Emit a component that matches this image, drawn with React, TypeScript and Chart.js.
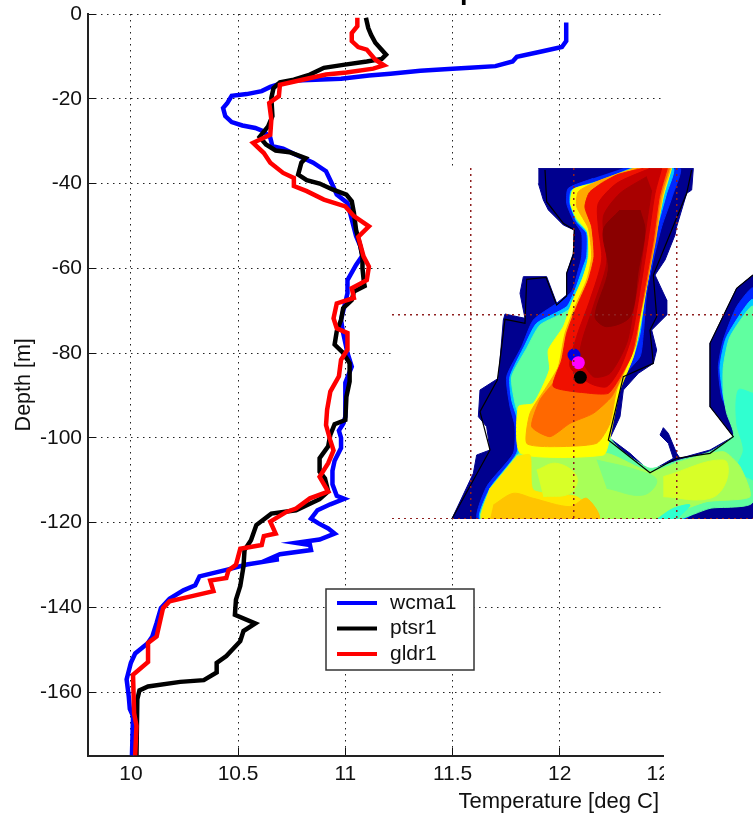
import React, { useEffect, useRef } from "react";
import { Chart, registerables } from "chart.js";

Chart.register(...registerables);

const FONT = "'Liberation Sans', Arial, sans-serif";

const xTicks = [10, 10.5, 11, 11.5, 12, 12.5];
const yTicks = [0, -20, -40, -60, -80, -100, -120, -140, -160];

type P = number[];

const wcma1: P[] = [[12.03,-2],[12.03,-6.4],[12.01,-7.8],[11.92,-8.8],[11.8,-10.1],[11.78,-11.2],[11.7,-12.3],[11.58,-12.7],[11.5,-12.9],[11.35,-13.4],[11.21,-14.1],[11.11,-14.5],[10.98,-15.3],[10.77,-15.7],[10.7,-16.4],[10.65,-17.2],[10.61,-18.2],[10.54,-18.9],[10.47,-19.3],[10.45,-21],[10.43,-22.2],[10.44,-24.1],[10.47,-25.5],[10.52,-26.3],[10.58,-26.9],[10.62,-27.7],[10.65,-29.2],[10.66,-31.2],[10.71,-31.8],[10.77,-33.2],[10.85,-35.1],[10.91,-37.1],[10.94,-40.3],[10.96,-42.6],[11.01,-44.6],[11.03,-48.5],[11.05,-52.4],[11.07,-54.8],[11.08,-57],[11.05,-59.2],[11.01,-62.8],[11.01,-65.9],[11,-68],[10.98,-72.2],[10.99,-75.3],[11.01,-80],[11.03,-83.2],[11,-87],[11,-90],[11,-95],[10.99,-96.7],[10.97,-98.3],[10.98,-100],[10.98,-102.4],[10.95,-105.4],[10.94,-107.8],[10.94,-111],[10.96,-113.7],[10.995,-114.4],[10.93,-115.7],[10.87,-117.1],[10.84,-119.1],[10.875,-120.2],[10.92,-121.4],[10.95,-122.6],[10.88,-124],[10.77,-124.8],[10.835,-125.3],[10.84,-126.5],[10.695,-127.5],[10.64,-128.7],[10.69,-128.7],[10.54,-129.9],[10.45,-131.1],[10.32,-132.7],[10.3,-134.8],[10.245,-136],[10.18,-138],[10.14,-140.2],[10.12,-143.7],[10.1,-146.9],[10.08,-148.4],[10.02,-150.9],[10,-153.1],[9.98,-157],[9.99,-161],[9.995,-164],[10.01,-165.7],[10.005,-175]];

const ptsr1: P[] = [[11.096,-0.9],[11.107,-3.3],[11.12,-4.9],[11.14,-6.8],[11.19,-9.6],[11.17,-10.6],[11.1,-11.2],[10.99,-12],[10.9,-12.7],[10.835,-14.3],[10.76,-15.5],[10.695,-16.1],[10.665,-17.5],[10.655,-19.8],[10.66,-24.1],[10.64,-26.5],[10.6,-29],[10.63,-30.8],[10.675,-32.2],[10.74,-32.6],[10.815,-34],[10.795,-35.1],[10.78,-37.9],[10.82,-39.2],[10.88,-40],[10.94,-41.4],[11.005,-42.6],[11.03,-44.2],[11.04,-46.9],[11.05,-50.9],[11.07,-54.8],[11.08,-57.5],[11.08,-60],[11.087,-63.5],[11.09,-64.2],[11.04,-65.5],[11.03,-67.5],[10.99,-69.4],[10.98,-72.2],[10.96,-74.9],[10.95,-78],[10.99,-80],[11.02,-82.4],[11.02,-86.7],[11.005,-90.3],[11,-95.8],[10.95,-96.8],[10.93,-99.3],[10.92,-102],[10.88,-104.8],[10.88,-108],[10.905,-109.6],[10.92,-112.7],[10.88,-114.5],[10.77,-117.1],[10.655,-117.9],[10.585,-120.6],[10.56,-124.2],[10.53,-126.5],[10.525,-130.4],[10.51,-135],[10.49,-138.2],[10.485,-141.8],[10.58,-143.8],[10.525,-145.6],[10.51,-148],[10.445,-151.5],[10.4,-153.1],[10.4,-155.4],[10.34,-157.2],[10.23,-157.6],[10.08,-158.7],[10.04,-159.6],[10.03,-161.7],[10.026,-175]];

const gldr1: P[] = [[11.056,-0.9],[11.056,-2.9],[11.03,-4.5],[11.03,-6.4],[11.06,-7.8],[11.1,-8.4],[11.14,-10.8],[11.18,-12.1],[11.13,-12.9],[11.005,-13.8],[10.91,-14.3],[10.8,-15.5],[10.695,-16.7],[10.69,-19.4],[10.645,-21],[10.655,-24.9],[10.65,-28.5],[10.57,-30.4],[10.62,-32.8],[10.65,-35.1],[10.71,-37.5],[10.76,-38.7],[10.76,-40.6],[10.82,-41.8],[10.9,-43.8],[11,-45.4],[11.04,-47.7],[11.11,-50.1],[11.06,-52.6],[11.085,-57.2],[11.11,-59.6],[11.1,-62.8],[11.03,-64.7],[11.04,-67],[10.96,-68.3],[10.945,-71.8],[10.96,-74.2],[11.01,-75.3],[11.01,-79.2],[10.98,-81.6],[10.97,-85.5],[10.93,-89.1],[10.915,-93.4],[10.91,-97],[10.93,-100.6],[10.945,-103],[10.92,-106],[10.88,-109.2],[10.92,-112.7],[10.835,-114.3],[10.77,-116.7],[10.725,-117.5],[10.65,-119.8],[10.675,-122.6],[10.62,-123.2],[10.61,-125.3],[10.51,-126.2],[10.49,-130],[10.455,-131.3],[10.445,-133.1],[10.37,-133.7],[10.385,-136.2],[10.29,-137.3],[10.18,-138.6],[10.15,-140.2],[10.12,-146.9],[10.08,-148.4],[10.08,-152.9],[10.01,-155.9],[10.015,-165],[10.026,-168],[10.02,-175]];

const seriesLabels = ["wcma1", "ptsr1", "gldr1"];
const seriesColors = ["#0000ff", "#000000", "#ff0000"];

// Inset map: contour bands, in map units, painted from the outermost inwards
const bandNavy: P[] = [[445,25],[910,25],[905,90],[890,100],[860,200],[855,225],[825,300],[795,345],[830,420],[830,465],[785,510],[800,570],[790,610],[745,640],[700,690],[690,770],[660,835],[720,880],[780,935],[850,895],[835,850],[810,825],[820,803],[835,820],[860,880],[870,895],[960,870],[1030,830],[1000,790],[960,740],[960,550],[1040,385],[1089,345],[1089,1078],[185,1078],[250,940],[260,885],[300,870],[290,800],[265,770],[270,690],[325,655],[330,600],[340,480],[345,462],[405,475],[390,400],[400,350],[470,350],[500,430],[530,405],[530,340],[550,280],[553,210],[520,195],[475,150],[460,120],[445,70]];
const bandBlue: P[] = [[700,25],[870,25],[850,100],[815,200],[790,300],[770,400],[760,520],[750,590],[690,660],[670,740],[645,830],[700,900],[780,945],[870,915],[960,885],[1050,840],[1030,790],[995,710],[985,620],[1000,540],[1040,440],[1089,385],[1089,1010],[950,1030],[880,1078],[265,1078],[290,980],[370,880],[375,800],[360,740],[350,650],[395,560],[430,480],[500,430],[545,395],[565,330],[575,290],[575,220],[550,180],[530,130],[535,85],[610,55]];
const bandCyan: P[] = [[720,25],[850,25],[830,100],[800,210],[785,300],[765,400],[750,520],[730,590],[690,680],[655,830],[700,885],[780,935],[860,920],[960,880],[1035,830],[1020,780],[1000,710],[990,620],[1010,530],[1089,420],[1089,1015],[950,1040],[870,1078],[272,1078],[300,985],[380,880],[388,800],[365,720],[360,650],[405,555],[440,490],[530,440],[555,390],[580,320],[590,290],[590,220],[560,185],[540,130],[545,90],[620,65]];
const bandGreen: P[] = [[735,25],[840,25],[815,110],[795,230],[775,340],[755,450],[745,520],[715,600],[680,690],[660,830],[700,875],[780,925],[870,900],[960,875],[1030,825],[1010,760],[1000,700],[1000,620],[1020,530],[1089,440],[1089,1025],[960,1045],[860,1078],[278,1078],[305,990],[385,885],[395,800],[375,730],[365,650],[410,565],[450,495],[535,450],[560,400],[590,320],[594,290],[594,220],[560,180],[542,130],[548,90],[620,70]];
const bandBasin: P[] = [[1089,700],[1045,690],[1040,790],[1060,870],[1040,930],[1089,960]];
const bandLime: P[] = [[380,885],[650,880],[780,935],[870,905],[1000,875],[1050,920],[1080,1010],[950,1025],[850,1060],[780,1078],[275,1078],[300,985]];
const bandSeaGreen: P[] = [[620,900],[740,930],[800,960],[760,1005],[650,985]];
const bandChartreuse: P[] = [[820,950],[1000,900],[1010,960],[960,1015],[820,1010]];
const bandInlet: P[] = [[800,1078],[850,1045],[900,1035],[860,1078]];
const bandYellowSouth: P[] = [[380,890],[420,885],[430,990],[560,1010],[625,1078],[278,1078],[300,985]];
const bandGoldSouth: P[] = [[310,1035],[370,1000],[430,1015],[540,1040],[590,1015],[625,1078],[300,1078]];
const bandShoal: P[] = [[440,930],[500,910],[560,950],[540,1000],[460,1010]];
const bandYellow: P[] = [[735,25],[610,70],[550,88],[542,130],[560,175],[592,215],[596,290],[578,355],[545,430],[520,500],[475,570],[478,630],[430,730],[385,740],[392,880],[640,885],[660,830],[690,690],[730,590],[750,500],[770,380],[795,240],[820,110],[845,25]];
const bandOrange: P[] = [[730,25],[620,65],[565,95],[560,140],[595,205],[605,290],[590,360],[555,440],[525,520],[505,620],[470,680],[420,760],[410,850],[480,860],[620,850],[660,790],[680,690],[722,590],[745,490],[770,375],[797,240],[817,110],[842,25]];
const bandDeepOrange: P[] = [[745,25],[640,65],[595,105],[585,145],[610,210],[618,295],[598,365],[560,450],[530,530],[510,640],[450,720],[425,800],[480,830],[540,790],[610,760],[665,710],[690,660],[735,560],[750,470],[770,370],[795,230],[812,110],[838,25]];
const bandRed: P[] = [[760,25],[680,45],[600,95],[585,140],[605,200],[612,290],[595,360],[560,440],[530,520],[515,600],[490,680],[600,700],[655,700],[685,660],[725,585],[745,490],[765,380],[790,240],[808,110],[832,25]];
const bandCrimson: P[] = [[780,25],[680,70],[625,130],[625,200],[635,300],[600,420],[560,530],[540,620],[600,670],[650,680],[690,625],[725,530],[742,440],[760,330],[780,200],[795,100],[815,25]];
const bandMaroon: P[] = [[770,50],[690,100],[640,170],[650,310],[610,440],[570,580],[610,650],[660,640],[710,550],[730,450],[752,320],[770,190],[785,90]];
const bandCore: P[] = [[690,150],[640,210],[655,330],[615,470],[650,500],[720,470],[745,330],[765,210],[750,150]];

const bands: [P[], string, number][] = [
  [bandNavy, "#00008f", 0],
  [bandBlue, "#0028ff", 0.2],
  [bandCyan, "#00c8ff", 0.2],
  [bandGreen, "#60ffa0", 0.2],
  [bandBasin, "#30ffd0", 0.3],
  [bandLime, "#a8ff58", 0.2],
  [bandSeaGreen, "#80ff80", 0.4],
  [bandChartreuse, "#d8ff28", 0.4],
  [bandInlet, "#30ffd0", 0.3],
  [bandYellow, "#ffff00", 0.2],
  [bandYellowSouth, "#ffe800", 0.2],
  [bandGoldSouth, "#ffc400", 0.3],
  [bandShoal, "#d8ff28", 0.4],
  [bandOrange, "#ffa800", 0.2],
  [bandDeepOrange, "#ff6800", 0.2],
  [bandRed, "#f01000", 0.2],
  [bandCrimson, "#c80000", 0.25],
  [bandMaroon, "#a80000", 0.25],
  [bandCore, "#8a0000", 0.3],
];

const coastWest: P[] = [[465,30],[470,125],[520,190],[553,210],[550,285],[530,340],[530,408],[500,435],[468,352],[410,358],[405,490],[345,478],[330,600],[322,660],[270,755],[300,870],[185,1078]];
const coastEast: P[] = [[905,30],[890,100],[790,345],[800,470],[780,510],[790,610],[700,650],[655,840],[780,938],[860,895],[960,880],[1030,830],[960,740],[960,550],[1040,385],[1089,345]];

const stationBlue: P[] = [[552,585]];
const stationMagenta: P[] = [[565,608]];
const stationBlack: P[] = [[571,652]];

const mapGridX = [242, 552, 860];
const mapGridY = [463, 1075];

const toXY = (a: P[]) => a.map(([x, y]) => ({ x, y }));

export default function App() {
  const mainRef = useRef<HTMLCanvasElement>(null);
  const mapRef = useRef<HTMLCanvasElement>(null);

  useEffect(() => {
    const series = [wcma1, ptsr1, gldr1];
    const overlay = {
      id: "overlay",
      afterDraw(chart: any) {
        const { ctx } = chart;
        ctx.save();
        // the figure is cropped just right of the x axis
        ctx.fillStyle = "#ffffff";
        ctx.fillRect(664, 0, 89, 814);
        // the cropped title's descender
        ctx.fillStyle = "#000";
        ctx.font = `bold 27px ${FONT}`;
        ctx.textAlign = "left";
        ctx.textBaseline = "alphabetic";
        ctx.fillText("p", 460, -1);
        // x axis title
        ctx.font = `22px ${FONT}`;
        ctx.textAlign = "right";
        ctx.textBaseline = "middle";
        ctx.fillStyle = "#111";
        ctx.fillText("Temperature [deg C]", 659, 802);
        // legend
        ctx.font = `21px ${FONT}`;
        ctx.fillStyle = "#fff";
        ctx.strokeStyle = "#333";
        ctx.lineWidth = 1.5;
        ctx.fillRect(326, 589, 148, 81);
        ctx.strokeRect(326, 589, 148, 81);
        chart.data.datasets.forEach((d: any, i: number) => {
          const y = 603 + i * 25.5;
          ctx.strokeStyle = d.borderColor;
          ctx.lineWidth = 4;
          ctx.beginPath();
          ctx.moveTo(337, y);
          ctx.lineTo(377, y);
          ctx.stroke();
          ctx.fillStyle = "#111";
          ctx.textAlign = "left";
          ctx.fillText(d.label, 390, y);
        });
        ctx.restore();
      },
    };

    const main = new Chart(mainRef.current!, {
      type: "scatter",
      plugins: [overlay],
      data: {
        datasets: series.map((s, i) => ({
          label: seriesLabels[i],
          data: toXY(s),
          showLine: true,
          borderColor: seriesColors[i],
          backgroundColor: seriesColors[i],
          borderWidth: 4.5,
          pointRadius: 0,
          order: 3 - i,
        })),
      },
      options: {
        animation: false,
        responsive: false,
        layout: { autoPadding: false, padding: { top: 14, right: 86, left: 0, bottom: 0 } },
        plugins: { legend: { display: false }, tooltip: { enabled: false } },
        scales: {
          x: {
            type: "linear",
            min: 9.8,
            max: 12.5,
            afterBuildTicks: (s: any) => { s.ticks = xTicks.map((value) => ({ value })); },
            afterFit: (s: any) => { s.height = 58.4; s.paddingLeft = 0; s.paddingRight = 0; },
            ticks: { color: "#111", font: { family: FONT, size: 21 }, padding: 14, maxRotation: 0, autoSkip: false, callback: (v: any) => String(v) },
            grid: { color: "#222", tickColor: "#111", tickLength: -8, tickWidth: 1, tickBorderDash: [] },
            border: { color: "#222", width: 2, dash: [1.5, 4.5] },
          },
          y: {
            type: "linear",
            min: -175,
            max: 0,
            afterBuildTicks: (s: any) => { s.ticks = yTicks.map((value) => ({ value })); },
            afterFit: (s: any) => { s.width = 88; s.paddingTop = 0; s.paddingBottom = 0; },
            title: { display: true, text: "Depth [m]", color: "#111", font: { family: FONT, size: 21.5 }, padding: { top: 11, bottom: 0 } },
            ticks: { color: "#111", font: { family: FONT, size: 21 }, padding: 14, autoSkip: false, callback: (v: any) => String(v) },
            grid: { color: "#222", tickColor: "#111", tickLength: -8, tickWidth: 1, tickBorderDash: [] },
            border: { color: "#222", width: 2, dash: [1.5, 4.5] },
          },
        },
      } as any,
    });

    const stations: [P[], string][] = [[stationMagenta, "#ff00ff"], [stationBlue, "#0000e0"], [stationBlack, "#000000"]];
    const mapData: any[] = [
      ...stations.map(([s, c], i) => ({
        data: toXY(s), showLine: false, pointRadius: 6.5, pointBackgroundColor: c, pointBorderWidth: 0, order: i,
      })),
      ...[coastWest, coastEast].map((s) => ({
        data: toXY(s), showLine: true, borderColor: "#000", borderWidth: 1.2, pointRadius: 0, order: 5,
      })),
      ...bands.map(([s, c, t], i) => ({
        data: toXY(s), showLine: true, fill: "shape", backgroundColor: c, borderColor: c, borderWidth: 1, tension: t, pointRadius: 0, order: 100 - i,
      })),
    ];

    const inset = new Chart(mapRef.current!, {
      type: "scatter",
      data: { datasets: mapData },
      options: {
        animation: false,
        responsive: false,
        layout: { autoPadding: false, padding: 0 },
        plugins: { legend: { display: false }, tooltip: { enabled: false } },
        scales: {
          x: {
            type: "linear", min: 6, max: 1089,
            afterBuildTicks: (s: any) => { s.ticks = mapGridX.map((value) => ({ value })); },
            ticks: { display: false, autoSkip: false },
            grid: { color: "#8f2020", lineWidth: 1.5, drawTicks: false, z: 1 },
            border: { display: false, dash: [2, 4] },
          },
          y: {
            type: "linear", min: 24, max: 1077, reverse: true,
            afterBuildTicks: (s: any) => { s.ticks = mapGridY.map((value) => ({ value })); },
            ticks: { display: false, autoSkip: false },
            grid: { color: "#8f2020", lineWidth: 1.5, drawTicks: false, z: 1 },
            border: { display: false, dash: [2, 4] },
          },
        },
      } as any,
    });

    return () => { main.destroy(); inset.destroy(); };
  }, []);

  return (
    <div style={{ position: "absolute", left: 0, top: 0, width: 753, height: 814, overflow: "hidden", background: "#fff" }}>
      <canvas ref={mainRef} width={753} height={814} style={{ position: "absolute", left: 0, top: 0 }} />
      <canvas ref={mapRef} width={361} height={351} style={{ position: "absolute", left: 392, top: 168, background: "#fff", filter: "blur(0.7px)" }} />
    </div>
  );
}
